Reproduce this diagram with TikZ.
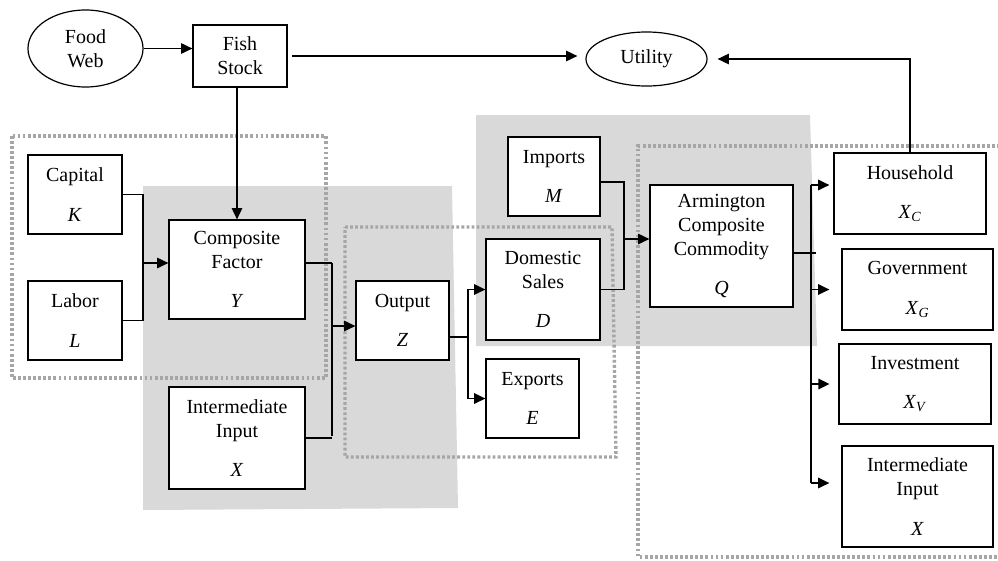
\documentclass[tikz,border=0pt]{standalone}
\usepackage{fontspec}
\setmainfont{Liberation Serif}
\usetikzlibrary{arrows.meta,shapes.geometric}
\newcommand{\sym}[1]{\textit{#1}}
\begin{document}
\begin{tikzpicture}[x=0.025cm,y=-0.025cm,
   every node/.style={font=\fontsize{14.2}{17}\selectfont,align=center,inner sep=0pt},
   box/.style={draw,fill=white,line width=0.85pt},
   oval/.style={draw,ellipse,line width=0.85pt},
   link/.style={line width=0.9pt},
   bar/.style={line width=1.4pt},
   arr/.style={line width=0.9pt,-{Triangle[length=2.8mm,width=2.6mm]}},
   barr/.style={line width=1.3pt,-{Triangle[length=2.8mm,width=2.6mm]}},
   zone/.style={fill=black!15},
   group/.style={draw=black!35,line width=2.4pt,dash pattern=on 2pt off 1.6pt}]
   \useasboundingbox (0,0) rectangle (998,560);
   \fill[zone] (143,186) -- (452,186) -- (458,508) -- (143,510) -- cycle;
   \fill[zone] (476,115) -- (810,115) -- (817,346) -- (476,346) -- cycle;
   \draw[group] (12,136) rectangle (326,378);
   \draw[group] (345,227) -- (612,227) -- (616,457) -- (345,457) -- cycle;
   \draw[group] (1010,146) -- (638,146) -- (638,557) -- (1010,557);
   \node [oval,minimum width=2.875cm,minimum height=1.925cm] (food) at (85.5,48.5) {Food\\Web};
   \node [box,minimum width=2.35cm,minimum height=1.55cm] (fish) at (240,56) {Fish\\Stock};
   \node [oval,minimum width=3.025cm,minimum height=1.35cm] (utility) at (646.5,59) {Utility};
   \node [box,minimum width=2.35cm,minimum height=1.975cm] (capital) at (75,194.5) {Capital\\[11pt]\sym{K}};
   \node [box,minimum width=2.35cm,minimum height=1.975cm] (labor) at (75,320.5) {Labor\\[11pt]\sym{L}};
   \node [box,minimum width=3.4cm,minimum height=2.475cm] (factor) at (237,269.5) {Composite\\Factor\\[11pt]\sym{Y}};
   \node [box,minimum width=3.4cm,minimum height=2.55cm] (interl) at (237,438) {Intermediate\\Input\\[11pt]\sym{X}};
   \node [box,minimum width=2.325cm,minimum height=1.975cm] (output) at (402.5,320.5) {Output\\[11pt]\sym{Z}};
   \node [box,minimum width=2.3cm,minimum height=1.975cm] (imports) at (554,176.5) {Imports\\[11pt]\sym{M}};
   \node [box,minimum width=2.85cm,minimum height=2.525cm] (domestic) at (543,289.5) {Domestic\\Sales\\[11pt]\sym{D}};
   \node [box,minimum width=2.325cm,minimum height=1.975cm] (exports) at (532.5,398.5) {Exports\\[11pt]\sym{E}};
   \node [box,minimum width=3.575cm,minimum height=3.05cm] (armington) at (721.5,246) {Armington\\Composite\\Commodity\\[11pt]\sym{Q}};
   \node [box,minimum width=3.8cm,minimum height=2.025cm] (household) at (910,193.5) {Household\\[11pt]\sym{X}\textsubscript{\sym{C}}};
   \node [box,minimum width=3.775cm,minimum height=2.025cm] (government) at (917.5,289.5) {Government\\[11pt]\sym{X}\textsubscript{\sym{G}}};
   \node [box,minimum width=3.8cm,minimum height=2cm] (investment) at (915,384) {Investment\\[11pt]\sym{X}\textsubscript{\sym{V}}};
   \node [box,minimum width=3.775cm,minimum height=2.525cm] (interr) at (917.5,496.5) {Intermediate\\Input\\[11pt]\sym{X}};
   \draw[arr] (food.east) -- (food.east -| fish.west);
   \draw[arr,shorten <=0.12cm,shorten >=0.2cm] (fish.east) -- (fish.east -| utility.west);
   \draw[arr,shorten >=0.25cm] (household.north) |- (utility.east);
   \draw[arr] (fish.south -| factor.north) -- (factor.north);
   \coordinate (klj) at (143,263);
   \draw[bar] (capital.east) -| (klj) |- (labor.east);
   \draw[arr] (klj) -- (factor.west |- klj);
   \coordinate (yxtop) at (332,263);
   \coordinate (yxbot) at (332,436);
   \coordinate (yxj) at (332,326);
   \draw[link] (factor.east |- yxtop) -- (yxtop);
   \draw[link] (interl.east) -- (interl.east -| yxbot);
   \draw[bar] (yxtop) -- (yxbot);
   \draw[arr] (yxj) -- (output.west |- yxj);
   \coordinate (zj) at (468,337);
   \draw[link] (output.east |- zj) -- (zj);
   \draw[barr] (zj) |- (domestic.west);
   \draw[barr] (zj) |- (exports.west);
   \coordinate (mdj) at (624,239);
   \draw[bar] ([yshift=-0.14cm]imports.east) -| (mdj) |- (domestic.east);
   \draw[arr] (mdj) -- (armington.west |- mdj);
   \coordinate (qj) at (816,253);
   \coordinate (qtop) at (811,185);
   \coordinate (qbot) at (811,483);
   \draw[bar] (armington.east |- qj) -- (qj);
   \draw[bar] (qtop) -- (qbot);
   \draw[barr,shorten >=0.1cm] (qtop) -- (qtop -| household.west);
   \draw[barr,shorten >=0.3cm] (government.west -| qtop) -- (government.west);
   \draw[barr,shorten >=0.22cm] (investment.west -| qtop) -- (investment.west);
   \draw[barr,shorten >=0.3cm] (qbot) -- (qbot -| interr.west);
\end{tikzpicture}
\end{document}
